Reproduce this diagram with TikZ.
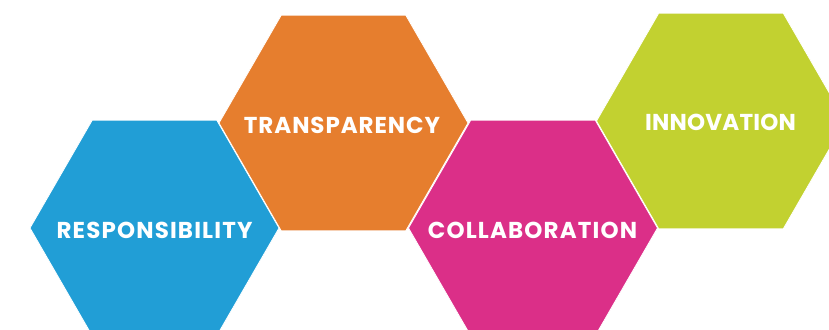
\documentclass[tikz,border=0pt]{standalone}
\usepackage{fontspec}
\setmainfont{Poppins}[LetterSpace=5]
\usetikzlibrary{shapes.geometric}
\definecolor{hblue}{RGB}{33,158,214}
\definecolor{horange}{RGB}{230,126,46}
\definecolor{hmagenta}{RGB}{219,47,136}
\definecolor{hgreen}{RGB}{194,209,48}
\tikzset{
  hexa/.style={regular polygon, regular polygon sides=6, minimum size=249pt, inner sep=0pt, draw=white, line width=0.8pt},
  hlabel/.style={text=white, font=\fontsize{23}{26}\selectfont\bfseries, inner sep=0pt}
}
\begin{document}
\begin{tikzpicture}[x=1pt,y=-1pt]
\useasboundingbox (0,0) rectangle (829,329);
\clip (0,0) rectangle (829,329);
\node[hexa, fill=hblue] (resp) at (154.5,228) {};
\node[hexa, fill=horange] (trans) at (343.5,123) {};
\node[hexa, fill=hmagenta] (coll) at (533,228) {};
\node[hexa, fill=hgreen] (inno) at (721,121) {};
\node[hlabel] (tresp) at (154.5,230.5) {RESPONSIBILITY};
\node[hlabel] (ttrans) at (342,125.5) {\addfontfeature{LetterSpace=4}TRANSPARENCY};
\node[hlabel] (tcoll) at (532.5,230.5) {COLLABORATION};
\node[hlabel] (tinno) at (720.5,122.5) {\addfontfeature{LetterSpace=1}INNOVATION};
\end{tikzpicture}
\end{document}
